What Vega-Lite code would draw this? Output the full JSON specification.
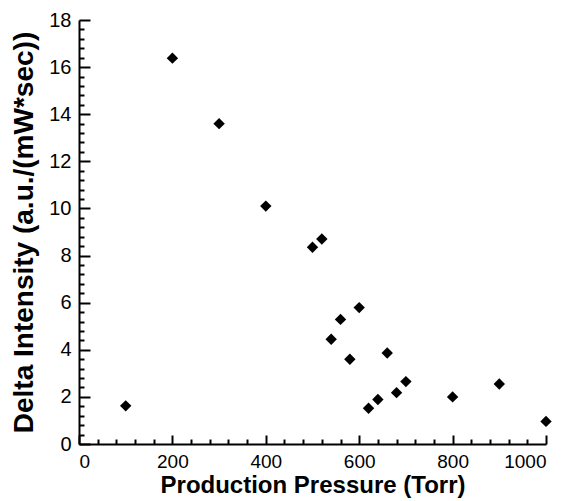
{
  "$schema": "https://vega.github.io/schema/vega-lite/v6.json",
  "width": 467,
  "height": 424,
  "autosize": "none",
  "padding": {"left": 79, "top": 20, "right": 28, "bottom": 57},
  "background": "white",
  "config": {
    "view": {"stroke": null},
    "axis": {"grid": false, "domainColor": "black", "tickColor": "black", "labelColor": "black", "titleColor": "black", "labelFont": "Liberation Sans", "titleFont": "Liberation Sans", "titleFontWeight": "bold", "domainWidth": 2, "tickWidth": 2}
  },
  "data": {"values": [
    {"p": 100, "d": 1.62},
    {"p": 200, "d": 16.38},
    {"p": 300, "d": 13.6},
    {"p": 400, "d": 10.1},
    {"p": 500, "d": 8.35},
    {"p": 520, "d": 8.7},
    {"p": 540, "d": 4.45},
    {"p": 560, "d": 5.29},
    {"p": 580, "d": 3.6},
    {"p": 600, "d": 5.79},
    {"p": 620, "d": 1.52},
    {"p": 640, "d": 1.89},
    {"p": 660, "d": 3.86},
    {"p": 680, "d": 2.18},
    {"p": 700, "d": 2.65},
    {"p": 800, "d": 2.0},
    {"p": 900, "d": 2.55},
    {"p": 1000, "d": 0.96}
  ]},
  "layer": [
    {
      "mark": {"type": "point", "shape": "diamond", "filled": true, "color": "black", "opacity": 1, "size": 130},
      "encoding": {
        "x": {"field": "p", "type": "quantitative", "scale": {"domain": [0, 1000], "nice": false},
          "axis": {"orient": "bottom", "title": "Production Pressure (Torr)", "titleFontSize": 24, "labelFontSize": 19, "format": "d", "values": [0, 200, 400, 600, 800, 1000], "tickSize": -9, "labelPadding": 17, "titlePadding": 2}},
        "y": {"field": "d", "type": "quantitative", "scale": {"domain": [0, 18], "nice": false},
          "axis": {"orient": "left", "title": "Delta Intensity (a.u./(mW*sec))", "titleFontSize": 28, "labelFontSize": 20, "format": "d", "values": [0, 2, 4, 6, 8, 10, 12, 14, 16, 18], "tickSize": -11, "labelPadding": 19, "titlePadding": 10}}
      }
    },
    {
      "mark": {"type": "point", "opacity": 0},
      "encoding": {
        "x": {"field": "p", "type": "quantitative",
          "axis": {"orient": "bottom", "title": null, "labels": false, "domain": false, "values": [40, 80, 120, 160, 240, 280, 320, 360, 440, 480, 520, 560, 640, 680, 720, 760, 840, 880, 920, 960], "tickSize": -5}},
        "y": {"field": "d", "type": "quantitative",
          "axis": {"orient": "left", "title": null, "labels": false, "domain": false, "values": [0.4, 0.8, 1.2, 1.6, 2.4, 2.8, 3.2, 3.6, 4.4, 4.8, 5.2, 5.6, 6.4, 6.8, 7.2, 7.6, 8.4, 8.8, 9.2, 9.6, 10.4, 10.8, 11.2, 11.6, 12.4, 12.8, 13.2, 13.6, 14.4, 14.8, 15.2, 15.6, 16.4, 16.8, 17.2, 17.6], "tickSize": -5}}
      }
    }
  ],
  "resolve": {"axis": {"x": "independent", "y": "independent"}}
}
